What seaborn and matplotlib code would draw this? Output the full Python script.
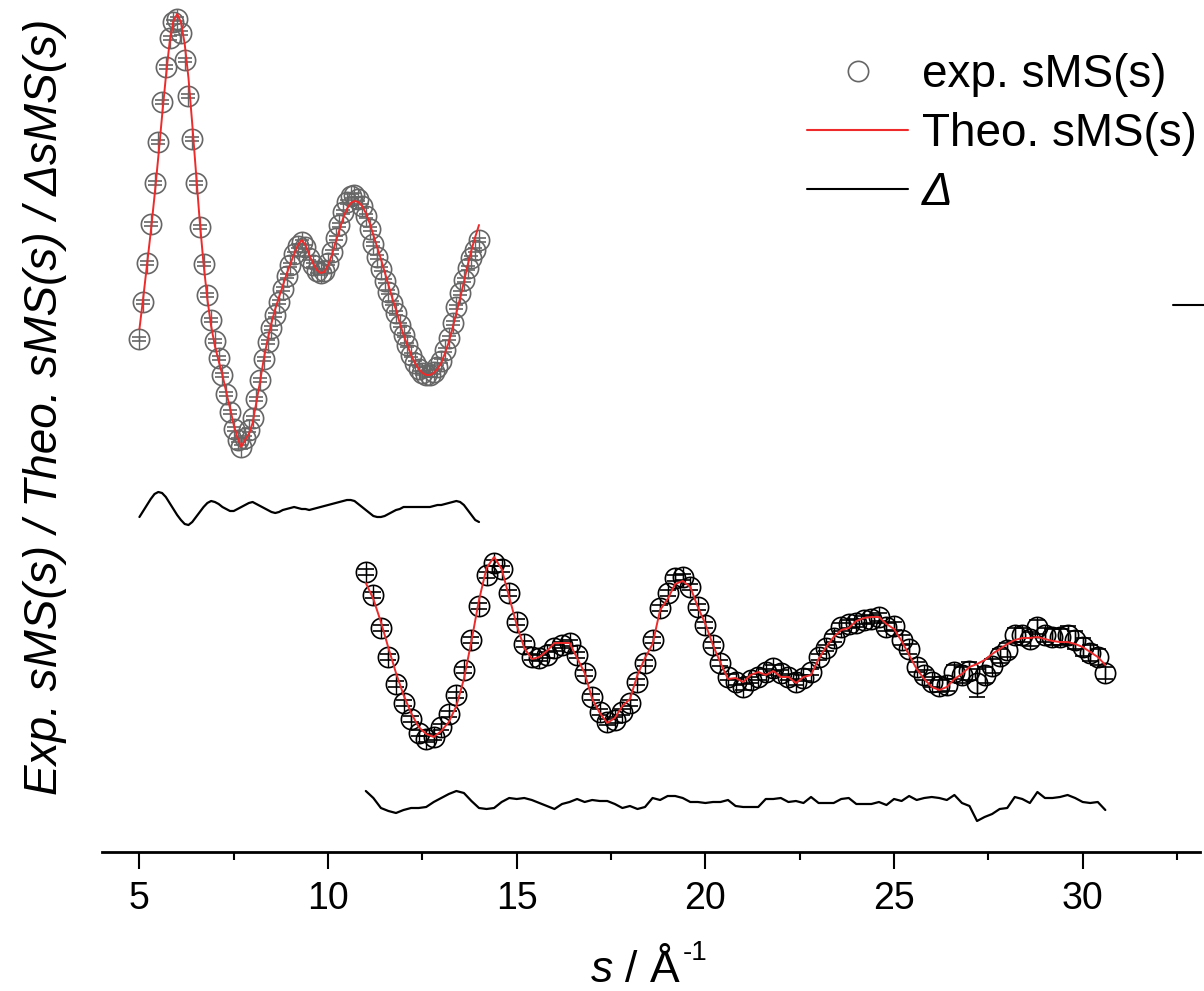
import numpy as np
import matplotlib
matplotlib.use("Agg")
import matplotlib.pyplot as plt
from matplotlib.lines import Line2D
from matplotlib.ticker import AutoMinorLocator
import seaborn as sns

# ---------------- data ----------------
s_upper = np.round(np.linspace(5.0, 14.0, 91), 2)
exp_upper = [
    -0.87, -0.50, -0.11, 0.28, 0.69, 1.10, 1.50, 1.85, 2.14, 2.30,
    2.33, 2.19, 1.92, 1.56, 1.13, 0.69, 0.25, -0.12, -0.43, -0.68,
    -0.89, -1.06, -1.23, -1.42, -1.60, -1.77, -1.88, -1.95, -1.86, -1.78,
    -1.66, -1.47, -1.28, -1.07, -0.90, -0.76, -0.63, -0.50, -0.37, -0.24,
    -0.13, -0.02, 0.06, 0.10, 0.05, -0.06, -0.13, -0.19, -0.21, -0.19,
    -0.11, 0.00, 0.14, 0.27, 0.40, 0.50, 0.56, 0.57, 0.53, 0.46,
    0.36, 0.23, 0.08, -0.05, -0.17, -0.29, -0.40, -0.51, -0.61, -0.73,
    -0.83, -0.93, -1.03, -1.11, -1.17, -1.21, -1.23, -1.23, -1.20, -1.15,
    -1.09, -0.98, -0.86, -0.71, -0.55, -0.41, -0.28, -0.16, -0.06, 0.02,
    0.12]
theo_upper = [
    -0.77, -0.46, -0.13, 0.20, 0.56, 0.95, 1.36, 1.75, 2.10, 2.31,
    2.38, 2.30, 2.08, 1.74, 1.28, 0.79, 0.30, -0.12, -0.47, -0.74,
    -0.94, -1.09, -1.23, -1.40, -1.56, -1.73, -1.86, -1.95, -1.88, -1.82,
    -1.71, -1.50, -1.29, -1.06, -0.87, -0.71, -0.57, -0.45, -0.34, -0.22,
    -0.12, -0.02, 0.07, 0.12, 0.07, -0.03, -0.11, -0.18, -0.21, -0.20,
    -0.13, -0.03, 0.10, 0.22, 0.34, 0.43, 0.49, 0.51, 0.50, 0.46,
    0.39, 0.29, 0.17, 0.05, -0.07, -0.20, -0.33, -0.46, -0.58, -0.71,
    -0.83, -0.93, -1.03, -1.11, -1.17, -1.21, -1.23, -1.23, -1.21, -1.17,
    -1.11, -1.01, -0.90, -0.76, -0.61, -0.46, -0.30, -0.13, 0.02, 0.15,
    0.27]
delta_upper = [
    -0.10, -0.04, 0.02, 0.08, 0.13, 0.15, 0.14, 0.10, 0.04, -0.02,
    -0.08, -0.13, -0.17, -0.18, -0.15, -0.10, -0.05, 0.00, 0.04, 0.06,
    0.05, 0.03, 0.00, -0.02, -0.04, -0.04, -0.02, 0.00, 0.02, 0.04,
    0.05, 0.03, 0.01, -0.01, -0.03, -0.05, -0.06, -0.05, -0.03, -0.02,
    -0.01, 0.00, -0.01, -0.02, -0.02, -0.03, -0.02, -0.01, 0.00, 0.01,
    0.02, 0.03, 0.04, 0.05, 0.06, 0.07, 0.07, 0.06, 0.03, 0.00,
    -0.03, -0.06, -0.09, -0.10, -0.10, -0.09, -0.07, -0.05, -0.03, -0.02,
    0.00, 0.00, 0.00, 0.00, 0.00, 0.00, 0.00, 0.00, 0.01, 0.02,
    0.02, 0.03, 0.04, 0.05, 0.06, 0.05, 0.02, -0.03, -0.08, -0.13,
    -0.15]
err_upper = 0.02

s_lower = np.round(np.linspace(11.0, 30.6, 99), 2)
exp_lower = [
    1.10, 0.87, 0.54, 0.25, -0.02, -0.21, -0.37, -0.51, -0.57, -0.55,
    -0.45, -0.32, -0.13, 0.12, 0.42, 0.76, 1.07, 1.19, 1.13, 0.89,
    0.60, 0.38, 0.25, 0.24, 0.27, 0.34, 0.37, 0.39, 0.27, 0.09,
    -0.15, -0.30, -0.40, -0.38, -0.30, -0.21, 0.00, 0.19, 0.42, 0.74,
    0.89, 1.04, 1.05, 0.95, 0.75, 0.57, 0.37, 0.19, 0.05, 0.00,
    -0.05, 0.02, 0.05, 0.10, 0.14, 0.09, 0.05, 0.00, 0.04, 0.10,
    0.25, 0.34, 0.44, 0.55, 0.58, 0.59, 0.62, 0.63, 0.65, 0.55,
    0.56, 0.42, 0.33, 0.15, 0.07, 0.00, -0.04, -0.03, 0.10, 0.07,
    0.11, -0.01, 0.07, 0.16, 0.26, 0.32, 0.47, 0.47, 0.43, 0.55,
    0.47, 0.45, 0.45, 0.47, 0.42, 0.35, 0.29, 0.25, 0.09]
theo_lower = [
    0.99, 0.83, 0.60, 0.34, 0.09, -0.13, -0.31, -0.45, -0.52, -0.55,
    -0.49, -0.40, -0.24, 0.03, 0.41, 0.82, 1.14, 1.25, 1.13, 0.85,
    0.57, 0.34, 0.23, 0.25, 0.31, 0.39, 0.39, 0.39, 0.24, 0.09,
    -0.17, -0.31, -0.41, -0.36, -0.24, -0.17, 0.07, 0.24, 0.38, 0.72,
    0.83, 0.98, 1.01, 0.95, 0.75, 0.58, 0.37, 0.19, 0.03, 0.04,
    0.00, 0.07, 0.10, 0.07, 0.11, 0.05, 0.05, -0.01, 0.05, 0.07,
    0.23, 0.35, 0.45, 0.52, 0.54, 0.61, 0.64, 0.65, 0.65, 0.58,
    0.53, 0.41, 0.27, 0.13, 0.03, -0.05, -0.08, -0.05, 0.03, 0.08,
    0.15, 0.18, 0.22, 0.28, 0.33, 0.38, 0.42, 0.44, 0.44, 0.45,
    0.43, 0.41, 0.40, 0.40, 0.38, 0.35, 0.30, 0.25, 0.17]
delta_lower = [
    0.11, 0.04, -0.06, -0.09, -0.11, -0.08, -0.06, -0.06, -0.05, 0.00,
    0.04, 0.08, 0.11, 0.09, 0.01, -0.06, -0.07, -0.06, 0.00, 0.04,
    0.03, 0.04, 0.02, -0.01, -0.04, -0.07, -0.02, 0.00, 0.03, 0.00,
    0.02, 0.01, 0.01, -0.02, -0.06, -0.04, -0.07, -0.05, 0.04, 0.02,
    0.06, 0.06, 0.04, 0.00, 0.00, -0.01, 0.00, 0.00, 0.02, -0.04,
    -0.05, -0.05, -0.05, 0.03, 0.03, 0.04, 0.00, 0.01, -0.01, 0.05,
    -0.01, -0.01, -0.01, 0.03, 0.04, -0.02, -0.02, -0.02, 0.00, -0.03,
    0.03, 0.01, 0.06, 0.02, 0.04, 0.05, 0.04, 0.02, 0.07, -0.01,
    -0.04, -0.19, -0.15, -0.12, -0.07, -0.06, 0.05, 0.03, -0.01, 0.10,
    0.04, 0.04, 0.05, 0.07, 0.04, 0.00, -0.01, 0.00, -0.08]
err_lower = [
    0.03, 0.03, 0.03, 0.03, 0.03, 0.03, 0.03, 0.03, 0.03, 0.03,
    0.03, 0.03, 0.03, 0.03, 0.03, 0.03, 0.03, 0.03, 0.03, 0.03,
    0.03, 0.03, 0.03, 0.03, 0.03, 0.03, 0.03, 0.03, 0.03, 0.03,
    0.03, 0.03, 0.03, 0.03, 0.03, 0.03, 0.03, 0.03, 0.03, 0.03,
    0.03, 0.03, 0.03, 0.03, 0.03, 0.03, 0.03, 0.03, 0.03, 0.03,
    0.03, 0.03, 0.03, 0.03, 0.03, 0.03, 0.03, 0.03, 0.03, 0.03,
    0.03, 0.03, 0.04, 0.04, 0.04, 0.04, 0.04, 0.04, 0.04, 0.04,
    0.04, 0.05, 0.05, 0.05, 0.05, 0.05, 0.06, 0.06, 0.07, 0.08,
    0.09, 0.14, 0.08, 0.07, 0.07, 0.07, 0.07, 0.07, 0.07, 0.07,
    0.07, 0.08, 0.08, 0.09, 0.09, 0.09, 0.08, 0.08, 0.06]

offset_upper = 6.00
offset_delta_upper = 3.45
offset_lower = 1.70
offset_delta_lower = 0.50

xticks = [5, 10, 15, 20, 25, 30]
legend_labels = ["exp. sMS(s)", "Theo. sMS(s)", "Δ"]
ylabel_text = "Exp. sMS(s) / Theo. sMS(s) / ΔsMS(s)"
xlabel_main = r"$\mathit{s}$ / Å"
xlabel_sup = "-1"

# ---------------- style ----------------
sns.set_theme(style="white")
plt.rcParams['font.family'] = ['Liberation Sans', 'DejaVu Sans']
plt.rcParams['mathtext.fontset'] = 'custom'
plt.rcParams['mathtext.rm'] = 'Liberation Sans'
plt.rcParams['mathtext.it'] = 'Liberation Sans:italic'
plt.rcParams['mathtext.sf'] = 'Liberation Sans'
plt.rcParams['text.color'] = 'black'

RED = '#ee2a2a'
GREY = '#666666'
MS = 14.6

W, H = 1204, 991
fig = plt.figure(figsize=(W / 100, H / 100), dpi=100)
ax = fig.add_axes([101.7 / W, 139 / H, 1098 / W, 852 / H])

# experimental data with error bars
yu = np.array(exp_upper) + offset_upper
yl = np.array(exp_lower) + offset_lower
ax.errorbar(s_upper, yu, yerr=err_upper,
            fmt='o', ms=MS, mfc='none', mec=GREY, mew=1.2,
            ecolor=GREY, elinewidth=1.0, capsize=5, capthick=1.0,
            zorder=2, clip_on=False)
ax.plot(s_upper, yu, ls='none', marker='|', ms=MS, mew=1.0, color=GREY,
        zorder=2, clip_on=False)
ax.errorbar(s_lower, yl, yerr=err_lower,
            fmt='o', ms=MS, mfc='none', mec='black', mew=1.2,
            ecolor='black', elinewidth=1.0, capsize=5.5, capthick=1.0,
            zorder=2, clip_on=False)
ax.plot(s_lower, yl, ls='none', marker='|', ms=MS, mew=1.0, color='black',
        zorder=2, clip_on=False)

# theory curves
sns.lineplot(x=s_upper, y=np.array(theo_upper) + offset_upper, ax=ax,
             color=RED, lw=1.4, sort=False, estimator=None, zorder=3)
sns.lineplot(x=s_lower, y=np.array(theo_lower) + offset_lower, ax=ax,
             color=RED, lw=1.4, sort=False, estimator=None, zorder=3)

# residual curves
sns.lineplot(x=s_upper, y=np.array(delta_upper) + offset_delta_upper, ax=ax,
             color='black', lw=1.6, sort=False, estimator=None, zorder=3)
sns.lineplot(x=s_lower, y=np.array(delta_lower) + offset_delta_lower, ax=ax,
             color='black', lw=1.6, sort=False, estimator=None, zorder=3)

ax.set_xlim(4.0, 4.0 + 1098 / 37.73)
ax.set_ylim(0, 8.52)
ax.set_facecolor('none')

for side in ['left', 'top', 'right']:
    ax.spines[side].set_visible(False)
ax.spines['bottom'].set_color('black')
ax.spines['bottom'].set_linewidth(2.0)

ax.set_yticks([])
ax.set_xticks(xticks)
ax.set_xticklabels([str(t) for t in xticks])
ax.xaxis.set_minor_locator(AutoMinorLocator(2))
ax.tick_params(axis='x', which='major', direction='out', length=12, width=1.5,
               color='black', labelsize=27, pad=9, labelcolor='black', bottom=True)
ax.tick_params(axis='x', which='minor', direction='out', length=6, width=1.5,
               color='black', bottom=True)
ax.set_xlabel('')
ax.set_ylabel('')

# axis titles
fig.text(45 / W, 1 - 407 / H, ylabel_text, rotation=90, fontsize=33,
         style='italic', ha='center', va='center', color='black')

t_main = fig.text(0, 0, xlabel_main, fontsize=32, ha='left', va='baseline')
t_sup = fig.text(0, 0, xlabel_sup, fontsize=20, ha='left', va='baseline')
renderer = fig.canvas.get_renderer()
w1 = t_main.get_window_extent(renderer).width
w2 = t_sup.get_window_extent(renderer).width
x0 = 649 - (w1 + w2 + 2) / 2
t_main.set_position((x0 / W, 1 - 982 / H))
t_sup.set_position(((x0 + w1 + 2) / W, 1 - 960 / H))

# legend
handles = [
    Line2D([], [], marker='o', ls='none', ms=MS, mfc='none', mec=GREY, mew=1.2),
    Line2D([], [], color=RED, lw=1.5),
    Line2D([], [], color='black', lw=1.5),
]
leg = fig.legend(handles, legend_labels, loc='upper left',
                 bbox_to_anchor=(806.7 / W, 1 - 53 / H), frameon=False,
                 fontsize=33, handlelength=2.22, handletextpad=0.3,
                 labelspacing=0.33, borderpad=0, borderaxespad=0)
for t in leg.get_texts():
    t.set_color('black')
leg.get_texts()[2].set_fontstyle('italic')

# short stray segment at the right edge
fig.add_artist(Line2D([1173 / W, 1.0], [1 - 305 / H, 1 - 305 / H],
                      color='black', lw=1.5, transform=fig.transFigure))

fig.savefig('out.png', dpi=100)
